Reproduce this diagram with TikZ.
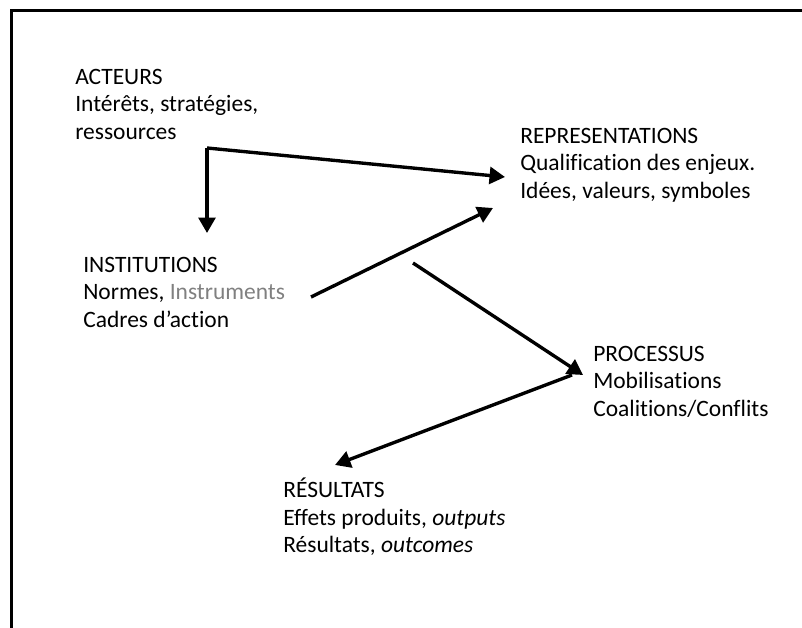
\documentclass[tikz,border=0pt]{standalone}
\usepackage{fontspec}
\setmainfont{Carlito}[Ligatures={NoCommon}]
\usepackage{tikz}
\usetikzlibrary{arrows.meta, positioning, calc}
\definecolor{muted}{RGB}{128, 128, 128}

\begin{document}
\begin{tikzpicture}[
        x=0.025cm, y=-0.025cm,
        block/.style={inner sep=0pt, anchor=north west, align=left,
                      font=\fontsize{16.7}{19.5}\selectfont},
        arrow/.style={-{Triangle[length=11pt, width=12pt]}, line width=2.4pt},
        frame/.style={line width=2.2pt},
    ]
        \useasboundingbox (0,0) rectangle (802,628);
        \draw[frame] (11.5,628) -- (11.5,10.5) -- (802,10.5);

        \node[block] (acteurs) at (75,64.7) {\strut ACTEURS\\Intérêts, stratégies,\\ressources};
        \node[block] (inst) at (83,252.7) {\strut INSTITUTIONS\\Normes, \textcolor{muted}{Instruments}\\Cadres d’action};
        \node[block] (repr) at (520,123.7) {\strut REPRESENTATIONS\\Qualification des enjeux.\\Idées, valeurs, symboles};
        \node[block] (proc) at (593,341.7) {\strut PROCESSUS\\Mobilisations\\Coalitions/Conflits};
        \node[block] (res) at (283,477.7) {\strut RÉSULTATS\\Effets produits, \textit{outputs}\\Résultats, \textit{outcomes}};

        \coordinate (split) at ($(acteurs.north west)+(132,83.3)$);
        \coordinate (instout) at ($(inst.north west)+(228,44.3)$);
        \coordinate (reprout) at ($(repr.north west)+(-107,139.3)$);
        \coordinate (procout) at ($(proc.north west)+(-21,33.3)$);

        \draw[arrow] (split) -- ([shift={(-15,53.3)}]repr.north west);
        \draw[arrow] (split) -- ([shift={(0,-19.7)}]split |- inst.north);
        \draw[arrow] (instout) -- ([shift={(-27,84.3)}]repr.north west);
        \draw[arrow] (reprout) -- ([shift={(-10,33.3)}]proc.north west);
        \draw[arrow] (procout) -- ([shift={(52,-12.7)}]res.north west);
\end{tikzpicture}
\end{document}
